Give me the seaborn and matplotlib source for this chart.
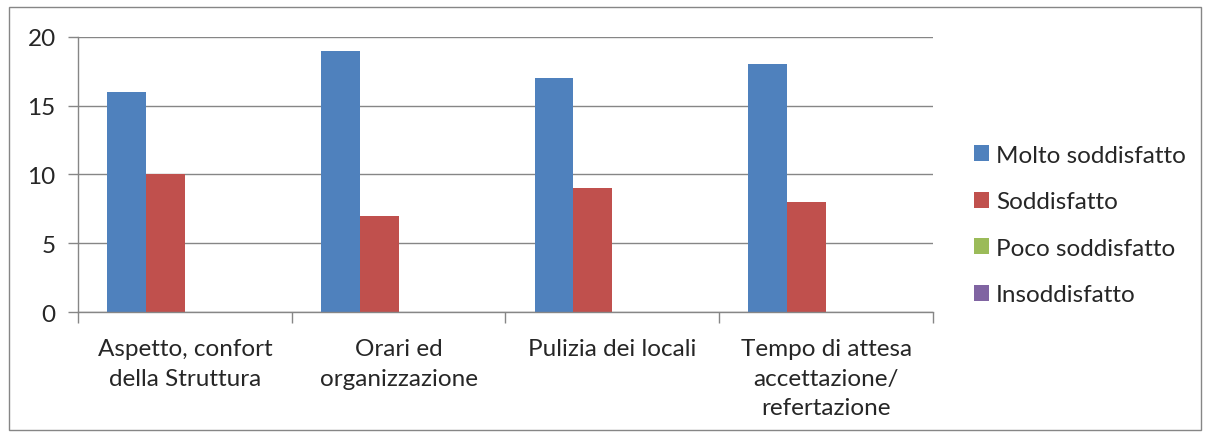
import numpy as np
import pandas as pd
import seaborn as sns
import matplotlib.pyplot as plt
from matplotlib.patches import Rectangle

categorie = [
    "Aspetto, confort\ndella Struttura",
    "Orari ed\norganizzazione",
    "Pulizia dei locali",
    "Tempo di attesa\naccettazione/\nrefertazione",
]
giudizi = ["Molto soddisfatto", "Soddisfatto", "Poco soddisfatto", "Insoddisfatto"]
molto_soddisfatto = [16, 19, 17, 18]
soddisfatto = [10, 7, 9, 8]
poco_soddisfatto = [0, 0, 0, 0]
insoddisfatto = [0, 0, 0, 0]
colori = ["#4F81BD", "#C0504D", "#9BBB59", "#8064A2"]

serie = [molto_soddisfatto, soddisfatto, poco_soddisfatto, insoddisfatto]
df = pd.DataFrame(
    [
        {"categoria": c, "giudizio": g, "valore": v}
        for g, vals in zip(giudizi, serie)
        for c, v in zip(categorie, vals)
    ]
)

sns.set_style("white")
plt.rcParams["font.family"] = ["Lato", "DejaVu Sans"]
grigio = "#868686"
fs = 17.5

fig = plt.figure(figsize=(12.11, 4.39), dpi=100)
ax = fig.add_axes([0.0644, 0.287, 0.7060, 0.6266])

sns.barplot(
    data=df,
    x="categoria",
    y="valore",
    hue="giudizio",
    hue_order=giudizi,
    order=categorie,
    palette=colori,
    saturation=1,
    width=0.727,
    linewidth=0,
    errorbar=None,
    ax=ax,
)

ax.set_xlim(-0.5, 3.5)
ax.set_ylim(0, 20)
ax.set_yticks([0, 5, 10, 15, 20])
ax.yaxis.grid(True, color=grigio, linewidth=1)
ax.set_axisbelow(True)
ax.tick_params(axis="y", length=7, width=1, color=grigio, labelsize=fs, pad=9, left=True)

# ticks at category boundaries, labels centred on the groups
ax.set_xticks(np.arange(-0.5, 4, 1))
ax.set_xticklabels([""] * 5)
ax.set_xticks(np.arange(4), minor=True)
ax.set_xticklabels(categorie, minor=True, fontsize=fs, linespacing=1.5, va="top")
ax.tick_params(axis="x", which="major", length=8, width=1, color=grigio, bottom=True)
ax.tick_params(axis="x", which="minor", length=0, pad=19)

for side in ["top", "right"]:
    ax.spines[side].set_visible(False)
for side in ["left", "bottom"]:
    ax.spines[side].set_color(grigio)
    ax.spines[side].set_linewidth(1)
ax.set_xlabel("")
ax.set_ylabel("")

ax.legend(
    loc="center left",
    bbox_to_anchor=(1.022, 0.316),
    frameon=False,
    fontsize=fs,
    handlelength=0.62,
    handleheight=0.62,
    handletextpad=0.3,
    labelspacing=1.05,
)

fig.patches.append(
    Rectangle(
        (9 / 1211, 1 - 431 / 439),
        1192 / 1211,
        423 / 439,
        transform=fig.transFigure,
        fill=False,
        edgecolor=grigio,
        linewidth=1,
    )
)

fig.savefig("out.png", dpi=100)
